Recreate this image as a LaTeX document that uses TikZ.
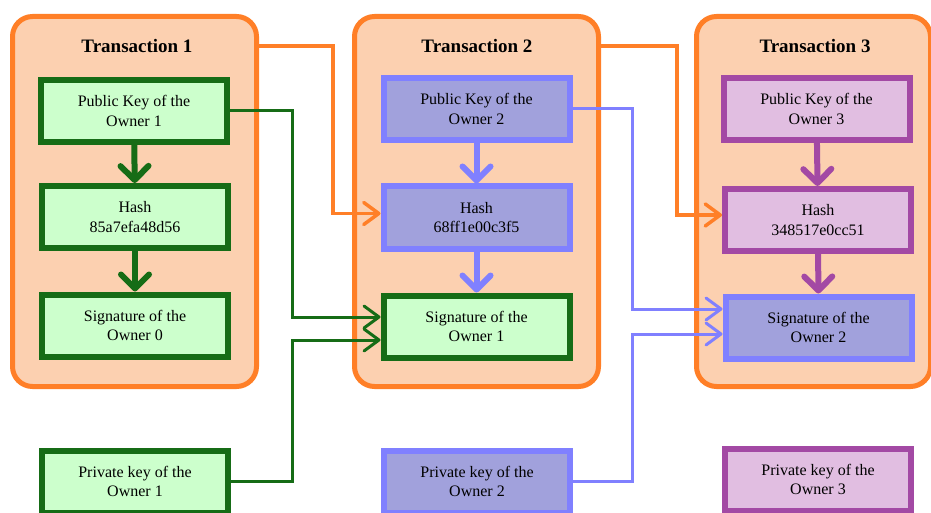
\documentclass[tikz,border=0pt]{standalone}
\usepackage{fontspec}
\setmainfont{Liberation Serif}
\usetikzlibrary{arrows.meta,calc}
\definecolor{txorange}{RGB}{255,127,39}
\definecolor{txpeach}{RGB}{252,208,176}
\definecolor{kgreen}{RGB}{22,108,22}
\definecolor{kgreenfill}{RGB}{204,255,204}
\definecolor{kblue}{RGB}{128,128,255}
\definecolor{kbluefill}{RGB}{161,161,220}
\definecolor{kpurple}{RGB}{163,73,164}
\definecolor{kpurplefill}{RGB}{225,190,225}
\begin{document}
\begin{tikzpicture}[x=1pt,y=-1pt,line cap=butt,line join=miter,
                    font=\fontsize{16}{19.5}\selectfont,
  txbox/.style={draw=txorange,fill=txpeach,line width=5pt,rounded corners=20pt,
                inner sep=0pt,minimum height=370pt},
  txtitle/.style={font=\fontsize{19}{22}\selectfont\bfseries},
  keybox/.style={line width=6pt,minimum width=186pt,minimum height=62pt,
                 inner sep=0pt,align=center},
  greenbox/.style={keybox,draw=kgreen,fill=kgreenfill},
  bluebox/.style={keybox,draw=kblue,fill=kbluefill},
  purplebox/.style={keybox,draw=kpurple,fill=kpurplefill},
  chain/.style={line width=6pt,-{Straight Barb[round,length=14pt,width=28pt]}},
  link/.style={line width=3pt,-{Straight Barb[round,length=15pt,width=22pt]}}]
  \path[use as bounding box] (0,0) rectangle (931,513);   % 源画布 931x513 px, y 向下
  % ---- 三个交易框（外沿 px 见行末注） ----
  \node[txbox,minimum width=244pt] (tx1) at (134.5,201.5) {};   % x[ 10,259] y[ 14,389]
  \node[txbox,minimum width=244pt] (tx2) at (476.5,201.5) {};   % x[352,601]
  \node[txbox,minimum width=234pt] (tx3) at (813.5,201.5) {};   % x[694,933] 右侧被裁
  \node[txtitle] (title1) at (137,46) {Transaction 1};
  \node[txtitle] (title2) at (477,46) {Transaction 2};
  \node[txtitle] (title3) at (815,46) {Transaction 3};
  % ---- 框内三层：公钥 / 哈希 / 签名 ----
  \node[greenbox]  (pub1)  at (134,111)   {Public Key of the\\Owner 1};     % y[ 76,147]
  \node[greenbox]  (hash1) at (135,217)   {Hash\\85a7efa48d56};             % y[183,251]
  \node[greenbox]  (sig0)  at (135,325.5) {Signature of the\\Owner 0};      % y[294,357]
  \node[bluebox]   (pub2)  at (476.5,109) {Public Key of the\\Owner 2};     % y[ 76,142]
  \node[bluebox]   (hash2) at (476.5,217.5) {Hash\\68ff1e00c3f5};           % y[185,250]
  \node[greenbox]  (sig1)  at (476.5,326.5) {Signature of the\\Owner 1};    % y[293,360]
  \node[purplebox] (pub3)  at (816.5,109) {Public Key of the\\Owner 3};     % y[ 75,143]
  \node[purplebox] (hash3) at (818,220)   {Hash\\348517e0cc51};             % y[187,253]
  \node[bluebox]   (sig2)  at (818.5,327.5) {Signature of the\\Owner 2};    % y[293,362]
  % ---- 底行私钥（下沿被画布裁掉） ----
  \node[greenbox]  (priv1) at (135,481.5) {Private key of the\\Owner 1};    % y[448,515]
  \node[bluebox]   (priv2) at (477,481.5) {Private key of the\\Owner 2};
  \node[purplebox] (priv3) at (818,479.5) {Private key of the\\Owner 3};    % y[448,511]
  % ---- 框内粗箭头 ----
  \draw[chain,kgreen]  (pub1) -- (hash1);
  \draw[chain,kgreen]  (hash1) -- (sig0);
  \draw[chain,kblue]   (pub2) -- (hash2);
  \draw[chain,kblue]   (hash2) -- (sig1);
  \draw[chain,kpurple] (pub3) -- (hash3);
  \draw[chain,kpurple] (hash3) -- (sig2);
  % ---- 折线连接：拐点列与入射点（px） ----
  \coordinate (ox1) at (333,0);                        % 橙线竖段 x=333
  \coordinate (ox2) at (677,0);                        % 橙线竖段 x=677
  \coordinate (gx)  at (292,0);                        % 绿线竖段 x=292
  \coordinate (bx)  at (632,0);                        % 蓝线竖段 x=632
  \coordinate (h2in) at ($(hash2.west)+(0,-4)$);       % y=213
  \coordinate (h3in) at ($(hash3.west)+(0,-5)$);       % y=215
  \coordinate (s1a) at ($(sig1.west)+(0,-9.5)$);       % y=317
  \coordinate (s1b) at ($(sig1.west)+(0,13.5)$);       % y=340
  \coordinate (s2a) at ($(sig2.west)+(0,-18.5)$);      % y=309
  \coordinate (s2b) at ($(sig2.west)+(0,6.5)$);        % y=334
  \draw[link,txorange,line width=3.5pt] (tx1.east |- title1) -| (ox1 |- h2in) -- (h2in);
  \draw[link,txorange,line width=3.5pt] (tx2.east |- title2) -| (ox2 |- h3in) -- (h3in);
  \draw[link,kgreen] (pub1.east) -| (gx |- s1a) -- (s1a);
  \draw[link,kgreen] (priv1.east) -| (gx |- s1b) -- (s1b);
  \draw[link,kblue]  (pub2.east) -| (bx |- s2a) -- (s2a);
  \draw[link,kblue]  (priv2.east) -| (bx |- s2b) -- (s2b);
\end{tikzpicture}
\end{document}
